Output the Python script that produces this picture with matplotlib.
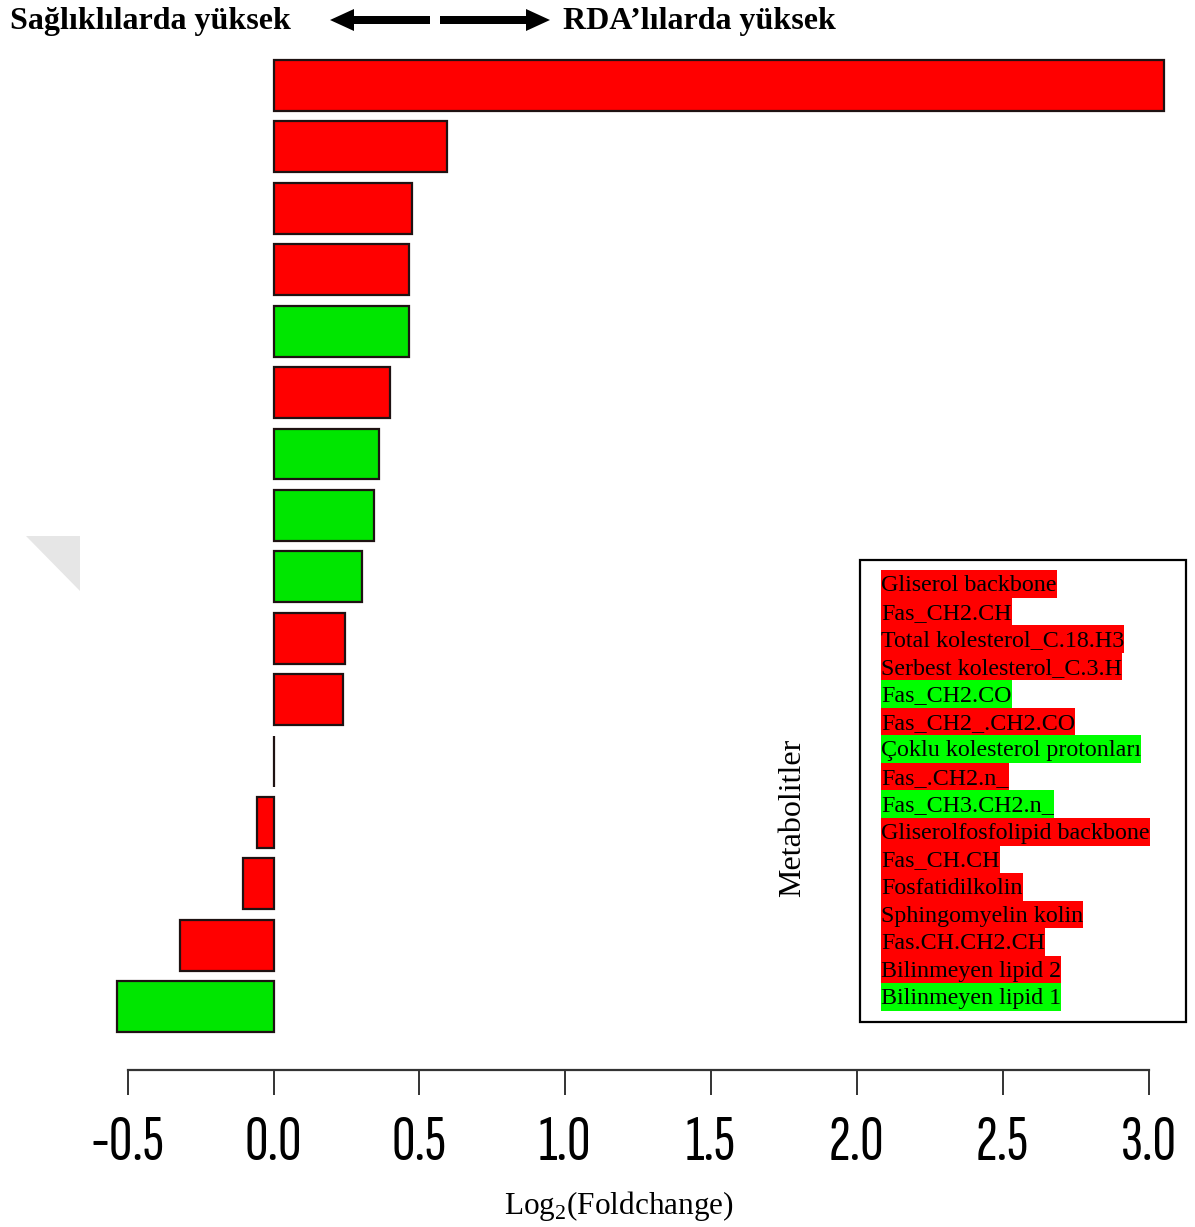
import matplotlib
matplotlib.use("Agg")
import matplotlib.pyplot as plt
from matplotlib.patches import Polygon, Rectangle

W, H, DPI = 1195, 1227, 100

# metabolites, top bar to bottom bar
metabolites = [
    "Gliserol backbone",
    "Fas_CH2.CH",
    "Total kolesterol_C.18.H3",
    "Serbest kolesterol_C.3.H",
    "Fas_CH2.CO",
    "Fas_CH2_.CH2.CO",
    "Çoklu kolesterol protonları",
    "Fas_.CH2.n_",
    "Fas_CH3.CH2.n_",
    "Gliserolfosfolipid backbone",
    "Fas_CH.CH",
    "Fosfatidilkolin",
    "Sphingomyelin kolin",
    "Fas.CH.CH2.CH",
    "Bilinmeyen lipid 2",
    "Bilinmeyen lipid 1",
]
log2_fc = [3.053, 0.596, 0.474, 0.466, 0.465, 0.399, 0.361, 0.345,
           0.304, 0.245, 0.237, 0.002, -0.057, -0.106, -0.321, -0.536]
bar_colors = ["r", "r", "r", "r", "g", "r", "g", "g",
              "g", "r", "r", "r", "r", "r", "r", "g"]
legend_colors = ["r", "r", "r", "r", "g", "r", "g", "r",
                 "g", "r", "r", "r", "r", "r", "r", "g"]
xticks = [-0.5, 0.0, 0.5, 1.0, 1.5, 2.0, 2.5, 3.0]

RED = "#ff0000"
GREEN_BAR = "#00e600"
GREEN_KEY = "#00ff00"
SERIF = "Liberation Serif"
TICK_FONT = ["Sofia Sans Extra Condensed", "Roboto Condensed", "Liberation Sans"]

plt.rcParams["mathtext.fontset"] = "custom"
plt.rcParams["mathtext.rm"] = SERIF


def fx(x):
    return x / W


def fy(y):
    return 1 - y / H


fig = plt.figure(figsize=(W / DPI, H / DPI), dpi=DPI)

# axes geometry in pixels: 0.0 at x=273.5, 291.67 px per unit
zero_px, unit_px = 273.5, 291.67
xlim = (-0.6, 3.1)
left_px = zero_px + xlim[0] * unit_px
right_px = zero_px + xlim[1] * unit_px
top_px, bottom_px = 55, 1070
ax = fig.add_axes([fx(left_px), fy(bottom_px),
                   (right_px - left_px) / W, (bottom_px - top_px) / H])

colors = [RED if c == "r" else GREEN_BAR for c in bar_colors]
ax.barh(range(len(log2_fc)), log2_fc, height=0.83, color=colors,
        edgecolor="#1e1212", linewidth=1.6, clip_on=False)
ax.set_xlim(xlim)
ax.set_ylim(16.03, -0.497)

for side in ["left", "right", "top"]:
    ax.spines[side].set_visible(False)
ax.spines["bottom"].set_bounds(-0.5, 3.0)
ax.spines["bottom"].set_linewidth(1.6)
ax.spines["bottom"].set_color("#333333")
ax.set_yticks([])
ax.set_xticks(xticks)
ax.set_xticklabels([f"{t:.1f}" for t in xticks], fontfamily=TICK_FONT,
                   fontsize=47)
ax.tick_params(axis="x", length=18, width=1.4, color="#333333", pad=15)

# header with direction arrows
fig.text(fx(10), fy(21), "Sağlıklılarda yüksek", fontfamily=SERIF,
         fontweight="bold", fontsize=23, ha="left", va="center")
fig.text(fx(563), fy(21), "RDA\u2019lılarda yüksek", fontfamily=SERIF,
         fontweight="bold", fontsize=23, ha="left", va="center")
arrow_y, half_shaft, half_head, head_len = 20, 4, 11, 24
left_arrow = [(330, arrow_y), (330 + head_len, arrow_y - half_head),
              (330 + head_len, arrow_y - half_shaft), (430, arrow_y - half_shaft),
              (430, arrow_y + half_shaft), (330 + head_len, arrow_y + half_shaft),
              (330 + head_len, arrow_y + half_head)]
right_arrow = [(550, arrow_y), (550 - head_len, arrow_y - half_head),
               (550 - head_len, arrow_y - half_shaft), (440, arrow_y - half_shaft),
               (440, arrow_y + half_shaft), (550 - head_len, arrow_y + half_shaft),
               (550 - head_len, arrow_y + half_head)]
for pts in (left_arrow, right_arrow):
    fig.patches.append(Polygon([(fx(x), fy(y)) for x, y in pts], closed=True,
                               facecolor="black", edgecolor="none",
                               transform=fig.transFigure))

# faint grey corner mark
fig.patches.append(Polygon([(fx(26), fy(536)), (fx(80), fy(536)), (fx(80), fy(591))],
                           closed=True, facecolor="#e6e6e6", edgecolor="none",
                           transform=fig.transFigure))

fig.text(fx(793), fy(818), "Metabolitler", fontfamily=SERIF,
         fontsize=23, rotation=90, ha="center", va="center")
fig.text(fx(619), fy(1206), "Log$_2$(Foldchange)", fontfamily=SERIF,
         fontsize=22.5, ha="center", va="center")

# colour key box
fig.patches.append(Rectangle((fx(860), fy(1022)), (1186 - 860) / W, (1022 - 560) / H,
                             facecolor="white", edgecolor="black", linewidth=1.6,
                             transform=fig.transFigure, zorder=1))
row_top, row_h, text_x = 570, 27.55, 881
key_texts = []
for i, name in enumerate(metabolites):
    t = fig.text(fx(text_x), fy(row_top + i * row_h + 21), name,
                 fontfamily=SERIF, fontsize=17.3,
                 ha="left", va="baseline", zorder=3)
    key_texts.append(t)

fig.canvas.draw()
renderer = fig.canvas.get_renderer()
for i, (t, c) in enumerate(zip(key_texts, legend_colors)):
    width = t.get_window_extent(renderer).width
    top = row_top + i * row_h
    fig.patches.append(Rectangle((fx(text_x), fy(top + row_h)), width / W, row_h / H,
                                 facecolor=RED if c == "r" else GREEN_KEY,
                                 edgecolor="none", transform=fig.transFigure,
                                 zorder=2))

fig.savefig("out.png", dpi=DPI)
